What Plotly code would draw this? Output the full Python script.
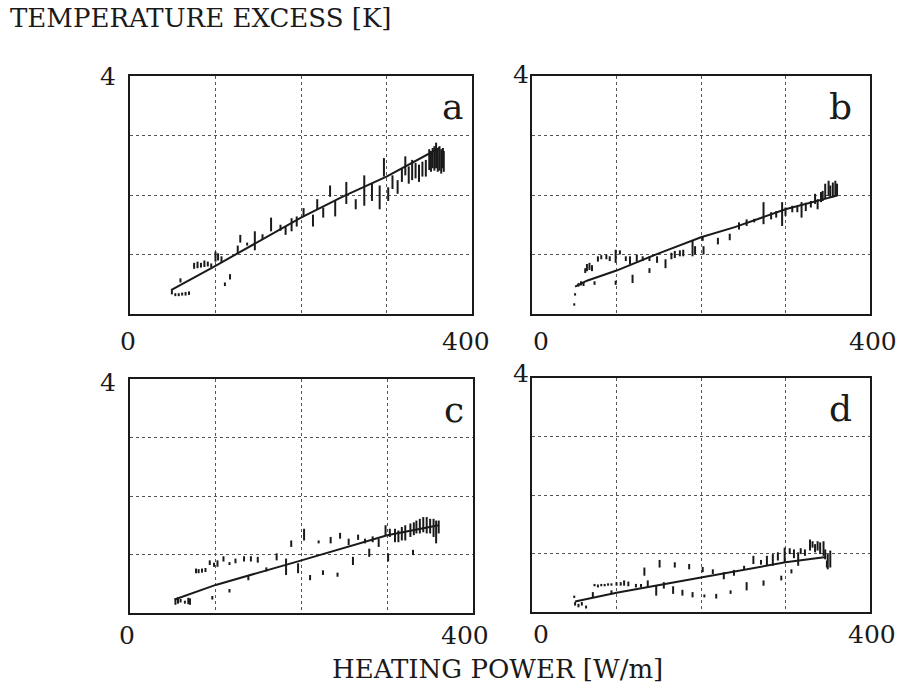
import plotly.graph_objects as go

# ---------------- data (x: heating power W/m, y: temperature excess K) -------------
# panel a
a_x  = [49, 53, 57, 61, 65, 69, 59, 75, 79, 83, 87, 91, 95, 100, 103, 107, 111, 117,
        126, 129, 137, 146, 155, 165, 176, 182, 189, 195, 203, 214, 219, 226, 234, 240,
        253, 264, 274, 283, 292, 297, 302, 307, 313, 318, 322, 326, 330, 334, 338, 342,
        346, 350, 352, 354, 356, 358, 360, 362, 364, 366, 367]
a_lo = [0.33, 0.30, 0.30, 0.31, 0.31, 0.32, 0.53, 0.76, 0.77, 0.78, 0.79, 0.80, 0.78, 0.88, 0.90, 0.87, 0.47, 0.58,
        1.01, 1.20, 1.15, 1.07, 1.26, 1.39, 1.40, 1.33, 1.39, 1.47, 1.63, 1.47, 1.76, 1.62, 1.97, 1.64,
        1.85, 1.76, 1.82, 1.90, 1.76, 2.31, 1.90, 2.10, 2.02, 2.22, 2.33, 2.19, 2.25, 2.28, 2.22, 2.31,
        2.31, 2.42, 2.39, 2.45, 2.41, 2.45, 2.39, 2.41, 2.36, 2.45, 2.39]
a_hi = [0.40, 0.35, 0.35, 0.36, 0.37, 0.38, 0.60, 0.86, 0.88, 0.86, 0.90, 0.88, 0.85, 1.05, 1.02, 0.97, 0.53, 0.67,
        1.15, 1.33, 1.20, 1.39, 1.34, 1.62, 1.50, 1.47, 1.61, 1.64, 1.78, 1.67, 1.93, 1.79, 2.16, 1.90,
        2.22, 1.93, 2.33, 2.19, 2.16, 2.62, 2.13, 2.33, 2.25, 2.45, 2.65, 2.48, 2.59, 2.54, 2.51, 2.56,
        2.59, 2.77, 2.74, 2.79, 2.82, 2.88, 2.79, 2.82, 2.77, 2.79, 2.74]
a_fit_x = [48, 100, 200, 250, 300, 362]
a_fit_y = [0.40, 0.81, 1.62, 1.98, 2.31, 2.79]

# panel b
b_x  = [50, 51, 55, 58, 61, 63, 65, 68, 71, 74, 78, 82, 88, 92, 99, 99, 104, 111, 116, 119,
        124, 131, 139, 139, 148, 158, 165, 169, 175, 179, 190, 193, 202, 203, 220, 234, 245,
        254, 263, 274, 283, 289, 296, 300, 308, 314, 319, 324, 330, 335, 338, 342, 344, 347,
        351, 353, 356, 359, 361]
b_lo = [0.14, 0.31, 0.46, 0.48, 0.47, 0.69, 0.72, 0.74, 0.72, 0.49, 0.88, 0.92, 0.92, 0.89, 0.86, 0.49, 1.00, 0.89, 0.83, 0.52,
        0.88, 0.89, 0.89, 0.69, 0.86, 0.77, 0.92, 0.94, 0.97, 0.97, 0.97, 1.00, 1.23, 1.00, 1.17, 1.24, 1.42,
        1.48, 1.54, 1.51, 1.59, 1.62, 1.48, 1.65, 1.71, 1.71, 1.62, 1.73, 1.79, 1.85, 1.76, 1.88, 1.90, 1.94,
        1.98, 1.96, 1.96, 1.98, 1.98]
b_hi = [0.18, 0.35, 0.52, 0.55, 0.54, 0.77, 0.84, 0.86, 0.82, 0.55, 0.97, 0.99, 1.00, 0.97, 1.08, 0.56, 1.07, 0.97, 0.97, 0.66,
        1.00, 0.97, 0.97, 0.77, 0.97, 0.92, 1.03, 1.06, 1.07, 1.08, 1.23, 1.14, 1.31, 1.14, 1.28, 1.35, 1.54,
        1.59, 1.60, 1.88, 1.71, 1.73, 1.88, 1.79, 1.82, 1.82, 1.88, 1.87, 1.90, 2.02, 1.93, 2.05, 2.07, 2.19,
        2.24, 2.16, 2.21, 2.24, 2.19]
b_fit_x = [51, 65, 100, 150, 200, 240, 300, 361]
b_fit_y = [0.46, 0.56, 0.73, 1.02, 1.29, 1.46, 1.76, 1.99]

# panel c
c_x  = [53, 56, 59, 64, 68, 70, 77, 80, 84, 88, 93, 96, 98, 102, 109, 116, 116, 123, 133, 138,
        141, 149, 159, 171, 182, 188, 196, 203, 210, 220, 225, 234, 242, 245, 255, 260, 266,
        274, 279, 283, 290, 298, 301, 303, 309, 313, 317, 321, 330, 327, 331, 334, 338, 342,
        346, 350, 354, 357, 360]
c_lo = [0.14, 0.16, 0.18, 0.16, 0.15, 0.14, 0.68, 0.68, 0.69, 0.70, 0.82, 0.23, 0.79, 0.79, 0.88, 0.82, 0.35, 0.85, 0.88, 0.56,
        0.88, 0.86, 0.71, 0.90, 0.65, 1.13, 0.68, 1.24, 0.56, 1.19, 0.65, 1.19, 0.62, 1.27, 1.16, 0.82, 1.25,
        1.19, 0.96, 1.21, 1.13, 1.33, 0.88, 1.30, 1.21, 1.21, 1.24, 1.24, 0.99, 1.30, 1.33, 1.36, 1.36, 1.38,
        1.36, 1.36, 1.30, 1.19, 1.36]
c_hi = [0.25, 0.27, 0.24, 0.21, 0.26, 0.25, 0.76, 0.75, 0.76, 0.77, 0.90, 0.29, 0.86, 0.90, 0.97, 0.87, 0.41, 0.93, 0.97, 0.65,
        0.97, 0.96, 0.78, 1.02, 0.93, 1.24, 0.85, 1.44, 0.65, 1.24, 0.73, 1.30, 0.69, 1.37, 1.27, 0.96, 1.34,
        1.27, 1.10, 1.31, 1.27, 1.50, 1.02, 1.44, 1.44, 1.41, 1.47, 1.50, 1.08, 1.53, 1.55, 1.58, 1.61, 1.64,
        1.64, 1.61, 1.61, 1.58, 1.58]
c_fit_x = [52, 100, 200, 300, 360]
c_fit_y = [0.23, 0.48, 0.90, 1.33, 1.50]

# panel d
d_x  = [50, 51, 55, 59, 64, 72, 74, 78, 82, 86, 90, 94, 100, 105, 109, 114, 94, 123, 129, 133,
        137, 147, 151, 156, 167, 169, 178, 186, 190, 202, 204, 214, 218, 227, 235, 239, 251,
        254, 262, 271, 274, 278, 285, 291, 295, 299, 305, 310, 315, 318, 307, 323, 329, 332,
        335, 338, 341, 345, 347, 350, 353, 349]
d_lo = [0.24, 0.11, 0.08, 0.11, 0.06, 0.25, 0.44, 0.42, 0.44, 0.44, 0.45, 0.45, 0.45, 0.45, 0.45, 0.44, 0.30, 0.42, 0.42, 0.62,
        0.42, 0.28, 0.76, 0.40, 0.31, 0.76, 0.28, 0.73, 0.25, 0.68, 0.25, 0.65, 0.23, 0.56, 0.31, 0.62, 0.73,
        0.37, 0.82, 0.81, 0.45, 0.79, 0.79, 0.88, 0.54, 0.85, 0.99, 0.92, 0.79, 0.99, 0.66, 0.96, 1.05, 1.10,
        1.02, 1.05, 0.99, 0.96, 0.90, 0.73, 0.76, 0.76]
d_hi = [0.28, 0.17, 0.14, 0.17, 0.11, 0.34, 0.48, 0.47, 0.48, 0.48, 0.49, 0.49, 0.51, 0.51, 0.54, 0.52, 0.37, 0.48, 0.48, 0.76,
        0.54, 0.45, 0.89, 0.51, 0.44, 0.85, 0.38, 0.82, 0.34, 0.77, 0.30, 0.73, 0.31, 0.68, 0.37, 0.72, 0.79,
        0.51, 0.96, 0.89, 0.54, 0.96, 0.99, 1.02, 0.62, 1.10, 1.09, 1.07, 1.02, 1.09, 0.73, 1.07, 1.24, 1.21,
        1.16, 1.21, 1.19, 1.21, 1.07, 0.99, 1.05, 0.88]
d_fit_x = [51, 100, 200, 300, 348]
d_fit_y = [0.18, 0.33, 0.59, 0.85, 0.94]

panel_letters = ["a", "b", "c", "d"]
x_tick_labels = ["0", "400"]
y_tick_label = "4"
title_text = "TEMPERATURE EXCESS [K]"
xlabel_text = "HEATING POWER [W/m]"

# ---------------- figure -------------------------------------------------------------
W, H = 903, 689
FONT = "DejaVu Serif"
INK = "#1a1a1a"

fig = go.Figure()

panels = [
    (a_x, a_lo, a_hi, a_fit_x, a_fit_y),
    (b_x, b_lo, b_hi, b_fit_x, b_fit_y),
    (c_x, c_lo, c_hi, c_fit_x, c_fit_y),
    (d_x, d_lo, d_hi, d_fit_x, d_fit_y),
]

# pixel boxes of plot areas -> paper domains
boxes = [(130, 472, 76, 314), (532, 870, 76, 314), (130, 473, 379, 613), (532, 870, 378, 612)]

for i, (px, lo, hi, fx, fy) in enumerate(panels):
    n = i + 1
    xa = "x" if n == 1 else f"x{n}"
    ya = "y" if n == 1 else f"y{n}"
    xs, ys = [], []
    for xv, l, h in zip(px, lo, hi):
        xs += [xv, xv, None]
        ys += [l, h, None]
    fig.add_trace(go.Scatter(x=xs, y=ys, mode="lines", xaxis=xa, yaxis=ya,
                             line=dict(color=INK, width=2), showlegend=False,
                             hoverinfo="skip"))
    fig.add_trace(go.Scatter(x=fx, y=fy, mode="lines", xaxis=xa, yaxis=ya,
                             line=dict(color=INK, width=2), showlegend=False))

    l, r, t, b = boxes[i]
    axis_common = dict(showline=True, linecolor=INK, linewidth=1.5, mirror=True,
                       showgrid=True, gridcolor="#555555", gridwidth=1, griddash="dot",
                       zeroline=False, showticklabels=False, ticks="")
    xkey = "xaxis" if n == 1 else f"xaxis{n}"
    ykey = "yaxis" if n == 1 else f"yaxis{n}"
    fig.update_layout(**{
        xkey: dict(axis_common, range=[0, 400], dtick=100, tick0=0,
                   domain=[l / W, r / W], anchor=ya),
        ykey: dict(axis_common, range=[0, 4], dtick=1, tick0=0,
                   domain=[1 - b / H, 1 - t / H], anchor=xa),
    })

annotations = []
# tick labels placed at the axis data coordinates
x0_shift = [-2, 9, -3, 9]
x400_shift = [-6, 3, -8, 2]
y4_shift = [(-22, 0), (-11, 2), (-22, -3), (-11, 4)]
xlab_yshift = [-27, -27, -22, -22]
for i in range(4):
    n = i + 1
    xa = "x" if n == 1 else f"x{n}"
    ya = "y" if n == 1 else f"y{n}"
    annotations.append(dict(x=0, y=0, xref=xa, yref=ya, text=x_tick_labels[0], showarrow=False,
                            xanchor="center", yanchor="middle", xshift=x0_shift[i],
                            yshift=xlab_yshift[i], font=dict(family=FONT, size=25, color=INK)))
    annotations.append(dict(x=400, y=0, xref=xa, yref=ya, text=x_tick_labels[1], showarrow=False,
                            xanchor="center", yanchor="middle", xshift=x400_shift[i],
                            yshift=xlab_yshift[i], font=dict(family=FONT, size=25, color=INK)))
    annotations.append(dict(x=0, y=4, xref=xa, yref=ya, text=y_tick_label, showarrow=False,
                            xanchor="center", yanchor="middle", xshift=y4_shift[i][0],
                            yshift=y4_shift[i][1], font=dict(family=FONT, size=25, color=INK)))
    xd = f"{xa} domain"
    yd = f"{ya} domain"
    lx = 0.944 if i % 2 == 0 else 0.914
    annotations.append(dict(x=lx, y=0.87, xref=xd, yref=yd, text=panel_letters[i], showarrow=False,
                            xanchor="center", yanchor="middle",
                            font=dict(family=FONT, size=36, color=INK)))

annotations.append(dict(x=8 / W, y=1 - 18 / H, xref="paper", yref="paper", text=title_text,
                        showarrow=False, xanchor="left", yanchor="middle",
                        font=dict(family=FONT, size=26, color=INK)))
annotations.append(dict(x=497 / W, y=1 - 669 / H, xref="paper", yref="paper", text=xlabel_text,
                        showarrow=False, xanchor="center", yanchor="middle",
                        font=dict(family=FONT, size=26, color=INK)))

fig.update_layout(width=W, height=H, margin=dict(l=0, r=0, t=0, b=0),
                  paper_bgcolor="white", plot_bgcolor="white",
                  annotations=annotations, showlegend=False)

fig.write_html("out.html")
